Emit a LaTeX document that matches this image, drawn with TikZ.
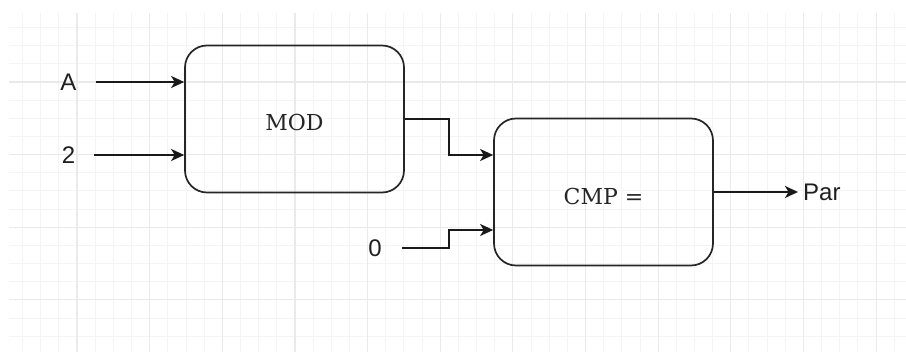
\documentclass[tikz,border=0pt]{standalone}
\usepackage{fontspec}
\setmainfont{DejaVu Serif}
\newfontfamily\sansf{Liberation Sans}
\usetikzlibrary{arrows.meta,calc}
\definecolor{minorc}{HTML}{F4F4F4}
\definecolor{majorc}{HTML}{EAEAEA}
\begin{document}
\begin{tikzpicture}[x=1pt,y=-1pt,
  block/.style={draw=black!85, line width=1.7pt, rounded corners=22pt, minimum width=219pt, minimum height=147pt, inner sep=0pt, font=\fontsize{22}{26}\selectfont, text=black!85},
  lbl/.style={font=\sansf\fontsize{24}{28}\selectfont, inner sep=0pt, text=black!88},
  conn/.style={draw=black!90, line width=1.9pt, -{Stealth[length=13pt,width=12pt,inset=3.5pt]}},
  minorline/.style={draw=minorc, line width=1pt},
  majorline/.style={draw=majorc, line width=1.1pt}
]
\useasboundingbox (0,0) rectangle (906,352);
\fill[white] (0,0) rectangle (906,352);
\begin{scope}
  \clip (9,13) rectangle (906,352);
  \foreach \i in {0,...,49} {\draw[minorline] ({4.4+\i*18.16},13) -- ++(0,339);}
  \foreach \j in {0,...,19} {\draw[minorline] (9,{9.35+\j*18.16}) -- ++(897,0);}
  \foreach \i in {0,...,12} {\draw[majorline] ({4.4+\i*72.64},13) -- ++(0,339);}
  \foreach \j in {0,...,4} {\draw[majorline] (9,{9.35+\j*72.64}) -- ++(897,0);}
\end{scope}

\node[block] (mod) at (294.5,119) {\raisebox{-3pt}[\height][0pt]{MOD}};
\node[block] (cmp) at (603.5,192) {\raisebox{-4pt}[\height][0pt]{CMP =}};

\node[lbl] (a) at (68.5,82) {A};
\node[lbl] (two) at (68.5,155) {2};
\node[lbl] (zero) at (375,248) {0};
\node[lbl, anchor=west] (par) at (803,192) {Par};

\coordinate (bend) at (449,0);

\draw[conn] ([xshift=19pt]a.east) -- (a.east -| mod.west);
\draw[conn] ([xshift=19pt]two.east) -- (two.east -| mod.west);
\draw[conn] (mod.east) -- (mod.east -| bend) |- ([yshift=37pt]cmp.west);
\draw[conn] ([xshift=20pt]zero.east) -- (zero.east -| bend) |- ([yshift=-38pt]cmp.west);
\draw[conn] (cmp.east) -- ([xshift=-5pt]par.west);
\end{tikzpicture}
\end{document}
